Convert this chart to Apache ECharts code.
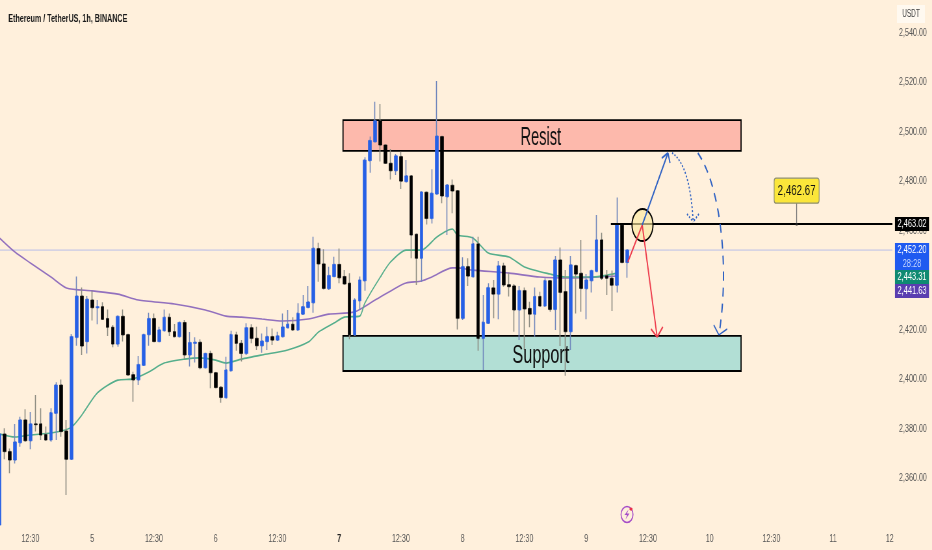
<!DOCTYPE html>
<html><head><meta charset="utf-8">
<style>html,body{margin:0;padding:0;background:#FFF0DC;overflow:hidden;width:932px;height:550px}#c{width:1434px;height:550px;transform:scaleX(0.65);transform-origin:0 0}</style>
<script src="https://cdn.jsdelivr.net/npm/echarts@6/dist/echarts.min.js"></script>
</head><body><div id="c"></div>
<script>
const FONT='"Liberation Sans",sans-serif';
const SQUEEZE=0.65; // the reference is horizontally squeezed as a whole
const sx=v=>v/SQUEEZE;
const titleText='Ethereum / TetherUS, 1h, BINANCE';
const slotCount=174;
const dateTicks=[[6,'12:30'],[18,'5'],[30,'12:30'],[42,'6'],[54,'12:30'],[66,'7'],[78,'12:30'],[90,'8'],[102,'12:30'],[114,'9'],[126,'12:30'],[138,'10'],[150,'12:30'],[162,'11'],[173,'12']];
// open, close, low, high
const ohlc=[
[2341,2377.8,2341,2378.8],[2377.8,2370.7,2367.6,2380.1],[2370.7,2367.3,2361.9,2372],[2367.3,2374.6,2365.9,2381.9],[2374.3,2383.5,2372.7,2384.8],
[2383.5,2375.1,2374.7,2387.8],[2375.1,2381.9,2371.6,2386.7],[2381.9,2381.6,2378.8,2393.6],[2381.9,2377.4,2375.4,2388.2],[2377.6,2375.4,2375.1,2380.8],
[2375.4,2386.4,2374.7,2388.2],[2386.2,2397.6,2375.4,2398.7],[2397.6,2378.8,2376.7,2399.9],[2379,2367.6,2353.1,2383.5],[2367.6,2417.2,2367.6,2418.3],
[2416.9,2433.6,2413.5,2441.5],[2433.6,2413.4,2409.8,2437.1],[2415.2,2432.3,2410.4,2433.6],[2432,2428.9,2423.7,2435.8],[2428.9,2429.3,2422.2,2432],
[2429.3,2424.2,2423.9,2431.1],[2424.5,2421,2417.5,2428.2],[2421,2414.2,2412.9,2421.9],[2414.2,2425.4,2413.1,2425.5],[2425.4,2417.9,2415.2,2428.2],
[2418,2401.7,2401.7,2418.3],[2401.8,2399.7,2390.9,2403],[2399.7,2405.9,2397.6,2409.4],[2405.6,2418,2405.3,2418.1],[2418,2424.5,2413.5,2426.9],
[2424.5,2415.2,2415.2,2426.6],[2415.2,2419.9,2415,2421.2],[2419.6,2425,2419.6,2428.2],[2425,2419.2,2417.5,2426.6],[2419.2,2417.2,2416.9,2422.3],
[2417.2,2422.9,2417.2,2423.3],[2422.9,2409.8,2408,2423.9],[2409.8,2414.8,2405.1,2419.1],[2414.5,2414.9,2406.7,2416.9],[2414.9,2404.6,2404,2416.1],
[2404.6,2410.4,2404.4,2410.7],[2410.4,2402.6,2396.3,2411.5],[2402.6,2396.6,2396.6,2402.6],[2396.7,2392.6,2390.5,2397.2],[2392.5,2403.7,2392.5,2409.1],
[2403.4,2418,2403.4,2419.6],[2417.9,2414.5,2411.5,2419.2],[2414.5,2410.4,2407.1,2415.8],[2410.4,2420.8,2409.8,2422.6],[2420.8,2416.5,2414.5,2422.2],
[2416.5,2413.5,2411.8,2421.2],[2413.5,2415.4,2410.7,2418.5],[2415.2,2417.2,2411.8,2421.2],[2417.2,2415.8,2413.8,2420.5],[2415.8,2417.5,2415.6,2419.2],
[2417.2,2421.1,2416.9,2426.6],[2420.8,2422.2,2420.5,2428],[2422.2,2419.9,2419.6,2425],[2419.9,2426.6,2419.6,2430.7],[2426.3,2429.3,2425.9,2434],
[2429,2431.2,2429,2437.7],[2430.9,2452.9,2426.9,2457.6],[2452.8,2446.6,2439.4,2455.2],[2446.6,2436.7,2436.3,2452.5],[2436.6,2441.9,2436.1,2445.5],
[2441.5,2446.4,2441.5,2449.5],[2446.4,2441,2438.8,2452.8],[2441.5,2438.5,2438.5,2444.1],[2438.8,2417.9,2416.1,2442.8],[2417.9,2432,2417.9,2432.7],
[2431.7,2440.1,2428,2441.5],[2439.8,2488.6,2435.8,2489.7],[2488.4,2496.5,2483.5,2498.1],[2496,2504.5,2496,2512.2],[2504.5,2494.7,2488,2511.3],
[2494.7,2487.3,2487,2494.7],[2487.3,2484.3,2480.8,2493.1],[2484.3,2490.3,2482.6,2491.1],[2490,2480.1,2476.9,2492],[2479.9,2482.2,2479.7,2488.6],
[2482.2,2458.3,2448.9,2482.6],[2458.6,2448.9,2438.1,2458.7],[2448.9,2475.7,2439.4,2475.8],[2475.6,2465,2462.6,2475.8],[2465,2475.2,2463,2484.9],
[2474.9,2498.3,2474.9,2520.6],[2498.1,2474.1,2471.1,2498.3],[2473.8,2478.5,2458.3,2478.9],[2478.4,2476.1,2467.1,2480.8],[2476.2,2424.6,2420.1,2476.5],
[2424.6,2445.5,2423.9,2449.3],[2445.5,2441.7,2437.7,2448.9],[2441.4,2454.7,2441.2,2457.6],[2454.7,2416.5,2411.5,2457.6],[2416.5,2423,2403.7,2434],
[2422.6,2437,2422.6,2438.8],[2436.9,2434.4,2424.6,2440.1],[2434.4,2445.8,2424.2,2447.8],[2445.8,2438.1,2437.4,2447.1],[2438.2,2437.4,2433.4,2443.1],
[2437.7,2428,2419.2,2438.5],[2428,2435.8,2415.8,2437.7],[2435.8,2428.4,2411.8,2437.1],[2428.6,2426.3,2421,2431.3],[2426.3,2433.4,2417.2,2437.1],
[2433.4,2429.6,2429.3,2435.4],[2429.6,2439.8,2429.3,2440.8],[2439.8,2428.2,2427.3,2440.1],[2428.2,2448.2,2419.9,2449.8],[2448.2,2435.1,2413.4,2453.2],
[2435.4,2419.2,2401.4,2444.1],[2419.2,2446.2,2411.8,2449.8],[2445.9,2442.5,2426.6,2446.2],[2442.8,2436.7,2427.3,2456.3],[2436.6,2440.1,2424.2,2442.5],
[2439.8,2443.9,2435,2444.1],[2443.6,2456.3,2443.5,2466.4],[2456.3,2440.8,2440.1,2459.2],[2441.8,2440.8,2434,2444.1],[2440.8,2438,2427.6,2443.9],
[2438,2462.3,2435,2473.5],[2462.3,2447.2,2447.1,2462.3],[2447.2,2452.2,2441,2452.2]];
// moving averages read at candle index
const purpleMA=[[0,2457.1],[3,2451.4],[6,2447],[10,2441.3],[13,2436.9],[18,2435.7],[23,2434.4],[27,2432],[34,2430.4],[40,2428],[44,2425.5],[47,2425.1],[51,2424.3],[55,2423.5],[60,2424.3],[64,2426.3],[69,2427.2],[73,2432],[77,2436.9],[79,2438.9],[82,2439.7],[84,2441.3],[88,2445],[89,2445],[92,2444.1],[99,2442.9],[105,2441.3],[111,2440.9],[120,2441.7]];
const greenMA=[[0,2377.8],[3,2376.6],[6,2377.4],[10,2378.2],[12,2379],[14,2380.6],[16,2385.5],[19,2394.4],[23,2399.6],[26,2400.1],[29,2402.9],[32,2406.5],[36,2408.1],[39,2408.6],[42,2407.7],[44,2406.5],[47,2408.1],[51,2409.8],[56,2411.8],[60,2415],[62,2419.1],[65,2422.7],[67,2425.1],[70,2425.5],[71,2430.8],[74,2441.3],[76,2447.4],[79,2452.2],[82,2452.2],[85,2457.5],[88,2460.7],[89,2458.3],[92,2457.1],[95,2451],[99,2449.4],[102,2445.4],[107,2442.5],[110,2441.3],[115,2441.3],[120,2442.9]];
// annotations: [slot, price]
const resistZone=[[66.75,2504.8],[144.1,2492.3]];
const supportZone=[[66.75,2417.5],[144.1,2403.3]];
const zoneLabels=[['Resist',105.2,2497.6,0.9],['Support',105.2,2409.4,1]];
const lastPrice=2452.2, levelPrice=2462.75, calloutPrice=2462.67, calloutSlot=154.9;
const levelSpan=[118.8,173.5];
const pivot=[124.9,2462.35], circleAt=[124.95,2462.35];
const redStart=[122.1,2447.4];
const blueTip=[129.9,2491.5], blueBarbs=[[128.7,2489.4],[130.3,2487.4]];
const redTip=[127.8,2417], redBarbs=[[126.6,2420.3],[128.9,2421.1]];
const dottedCurve=[[130.7,2491.5],[134.2,2486.6],[134.8,2463.6]], dottedBarbs=[[133.6,2466.8],[135.9,2466.8]];
const dashedCurve=[[135.7,2491.5],[140,2478.5],[141.96,2446.2],[139.8,2417.9]], dashedBarbs=[[138.8,2421.9],[141.4,2420.3]];
const priceTags=[['2,463.02',217,14,'#000000','#ffffff'],['2,452.20',243,14,'#1f5af0','#ffffff'],['28:28',257,13,'#1f5af0','#c8d8ff'],['2,443.31',270,14,'#0f8a72','#ffffff'],['2,441.63',284,14,'#5a3db0','#ffffff']];

const categories=new Array(slotCount).fill('');
dateTicks.forEach(t=>categories[t[0]]=t[1]);
const series2=a=>{const d=new Array(slotCount).fill(null);a.forEach(p=>d[p[0]]=p[1]);return d;};
const BLUE='#2660e6';
const chart=echarts.init(document.getElementById('c'),null,{renderer:'canvas'});
const seg=(api,a,b,style)=>{const p=api.coord(a),q=api.coord(b);return {type:'line',shape:{x1:p[0],y1:p[1],x2:q[0],y2:q[1]},style:Object.assign({fill:null},style)};};
const rect=(api,z,fill)=>{const p=api.coord(z[0]),q=api.coord(z[1]);return {type:'rect',shape:{x:p[0],y:p[1],width:q[0]-p[0],height:q[1]-p[1]},style:{fill:fill,stroke:'#000',lineWidth:1.8}};};
const barbs=(api,tip,bs,style)=>bs.map(b=>seg(api,b,tip,style));

const back=(params,api)=>({type:'group',children:[
 rect(api,resistZone,'#FDB9AC'),rect(api,supportZone,'#B2DFD5'),
 seg(api,[-0.5,lastPrice],[173.5,lastPrice],{stroke:'#B9BEE8',lineWidth:1})
]});
const front=(params,api)=>{
 const blue={stroke:'#2F62C4',lineWidth:1.9}, red={stroke:'#EE3B4C',lineWidth:1.9};
 const dot={stroke:'#2F62C4',lineWidth:1.8,lineDash:[2,2]}, dash={stroke:'#2F62C4',lineWidth:2,lineDash:[9,7]};
 const solidArc={stroke:'#2F62C4',lineWidth:1.6};
 const c=api.coord(circleAt), s=api.coord([calloutSlot,calloutPrice]);
 const d0=dottedCurve.map(api.coord), d1=dashedCurve.map(api.coord);
 const kids=[];
 kids.push(seg(api,[levelSpan[0],levelPrice],[levelSpan[1],levelPrice],{stroke:'#000',lineWidth:2}));
 kids.push({type:'ellipse',shape:{cx:c[0],cy:c[1],rx:sx(10.5),ry:16},style:{fill:'rgba(250,232,160,0.65)',stroke:'#000',lineWidth:1.8}});
 kids.push(seg(api,redStart,pivot,red),seg(api,pivot,redTip,red),...barbs(api,redTip,redBarbs,red));
 kids.push(seg(api,pivot,blueTip,blue),...barbs(api,blueTip,blueBarbs,blue));
 kids.push({type:'bezierCurve',shape:{x1:d0[0][0],y1:d0[0][1],x2:d0[2][0],y2:d0[2][1],cpx1:d0[1][0],cpy1:d0[1][1]},style:Object.assign({fill:null},dot)});
 kids.push(...barbs(api,dottedCurve[2],dottedBarbs,dot));
 kids.push({type:'bezierCurve',shape:{x1:d1[0][0],y1:d1[0][1],x2:d1[3][0],y2:d1[3][1],cpx1:d1[1][0],cpy1:d1[1][1],cpx2:d1[2][0],cpy2:d1[2][1]},style:Object.assign({fill:null},dash)});
 kids.push(...barbs(api,dashedCurve[3],dashedBarbs,solidArc));
 zoneLabels.forEach(z=>{const p=api.coord([z[1],z[2]]);kids.push({type:'text',x:p[0],y:p[1],scaleX:z[3],style:{x:0,y:0,text:z[0],fontFamily:FONT,fontSize:25,fill:'#111',align:'center',verticalAlign:'middle'}});});
 kids.push({type:'line',shape:{x1:s[0],y1:s[1],x2:s[0],y2:s[1]-22},style:{stroke:'#777',lineWidth:1.3}});
 kids.push({type:'ellipse',shape:{cx:s[0],cy:s[1],rx:2,ry:1.3},style:{fill:'#222'}});
 kids.push({type:'rect',shape:{x:s[0]-sx(22.5),y:s[1]-46,width:sx(45),height:25,r:3},style:{fill:'#FBE63A',stroke:'#8f8f70',lineWidth:1.2}});
 kids.push({type:'text',style:{x:s[0],y:s[1]-33.5,text:calloutPrice.toLocaleString('en-US',{minimumFractionDigits:2}),fontFamily:FONT,fontSize:15,fill:'#111',align:'center',verticalAlign:'middle'}});
 return {type:'group',children:kids};
};
const tagGraphics=[];
priceTags.forEach(t=>{
 tagGraphics.push({type:'rect',shape:{x:sx(895),y:t[1],width:sx(34),height:t[2]},style:{fill:t[3]},z:50});
 tagGraphics.push({type:'text',style:{x:sx(912),y:t[1]+t[2]/2,text:t[0],fontFamily:FONT,fontSize:11.5,fill:t[4],align:'center',verticalAlign:'middle'},z:51});
});
chart.setOption({
 animation:false,backgroundColor:'#FFF0DC',
 title:{text:titleText,left:sx(5),top:8,textStyle:{fontFamily:FONT,fontSize:11,fontWeight:'bold',color:'#1a1a1a'}},
 grid:{left:sx(-3.07),top:0,width:sx(895.4),height:527.5,containLabel:false,outerBoundsMode:'none'},
 xAxis:[
  {type:'category',data:categories,boundaryGap:true,axisLine:{show:false},axisTick:{show:false},splitLine:{show:false},
   axisLabel:{interval:0,hideOverlap:false,fontFamily:FONT,fontSize:11,color:'#555',margin:6,showMinLabel:true,showMaxLabel:true,
    formatter:v=>v==='7'?'{b|7}':v,rich:{b:{fontFamily:FONT,fontSize:11,fontWeight:'bold',color:'#222'}}}},
  {type:'value',min:-0.5,max:173.5,show:false,splitLine:{show:false}}
 ],
 yAxis:{type:'value',position:'right',min:2340,max:2553.35,interval:20,scale:true,axisLine:{show:false},axisTick:{show:false},splitLine:{show:false},
  axisLabel:{showMinLabel:false,showMaxLabel:false,fontFamily:FONT,fontSize:11,color:'#555',margin:sx(6.7),
   formatter:v=>v.toLocaleString('en-US',{minimumFractionDigits:2,maximumFractionDigits:2})}},
 series:[
  {type:'custom',xAxisIndex:1,data:[[0,2400]],z:1,silent:true,renderItem:back},
  {type:'line',data:series2(purpleMA),connectNulls:true,smooth:0.25,showSymbol:false,symbol:'none',lineStyle:{color:'#9270BE',width:1.6},z:2},
  {type:'line',data:series2(greenMA),connectNulls:true,smooth:0.25,showSymbol:false,symbol:'none',lineStyle:{color:'#55AE8C',width:1.6},z:2},
  {type:'candlestick',name:'wicks',data:ohlc,barWidth:1.5,z:3,
   itemStyle:{color:'#6F86BC',color0:'#8C8C82',borderColor:'#6F86BC',borderColor0:'#8C8C82',borderWidth:1.6}},
  {type:'candlestick',name:'bodies',data:ohlc.map(r=>[r[0],r[1],Math.min(r[0],r[1]),Math.max(r[0],r[1])]),barWidth:sx(3.4),z:4,
   itemStyle:{color:BLUE,color0:'#000',borderColor:BLUE,borderColor0:'#000',borderWidth:0.6}},
  {type:'custom',xAxisIndex:1,data:[[0,2400]],z:6,silent:true,renderItem:front}
 ],
 graphic:[
  {type:'rect',shape:{x:sx(897),y:5,width:sx(28),height:18},style:{fill:'#FFF9F0'},z:50},
  {type:'text',style:{x:sx(911),y:14,text:'USDT',fontFamily:FONT,fontSize:10,fill:'#444',align:'center',verticalAlign:'middle'},z:51},
  ...tagGraphics,
  {type:'ellipse',shape:{cx:sx(627),cy:514.5,rx:sx(6),ry:8},style:{fill:'none',stroke:'#A64CC8',lineWidth:1.5},z:50},
  {type:'polygon',shape:{points:[[628.5,509.5],[624.5,515],[627,515],[625.5,519.5],[629.5,513.5],[627,513.5]].map(p=>[sx(p[0]),p[1]])},style:{fill:'#A64CC8'},z:50},
  {type:'ellipse',shape:{cx:sx(631),cy:509,rx:sx(1.6),ry:1.6},style:{fill:'#E8304A'},z:51}
 ]
});
</script></body></html>
